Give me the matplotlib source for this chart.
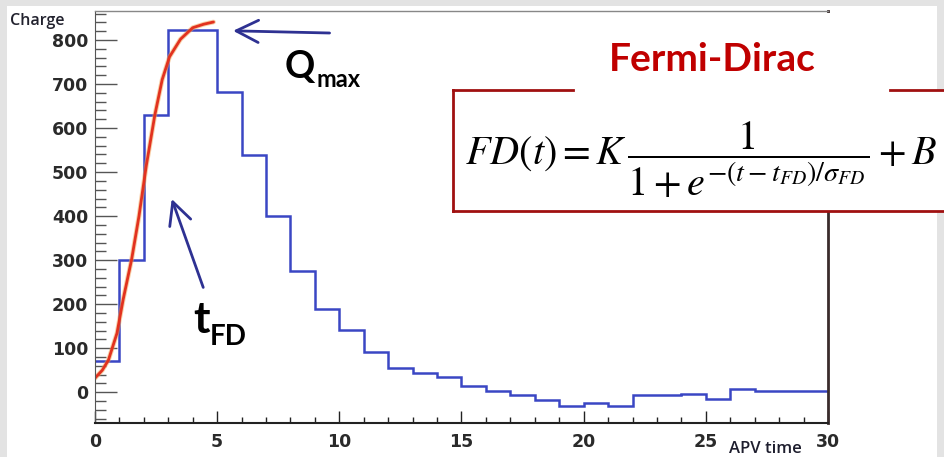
import numpy as np
import matplotlib.pyplot as plt
from matplotlib.patches import Rectangle
from matplotlib.lines import Line2D
from matplotlib.ticker import MultipleLocator

plt.rcParams['mathtext.fontset'] = 'stix'

# APV samples (one bin per time sample)
apv_edges = list(range(31))
charge = [70, 300, 630, 823, 823, 681, 538, 400, 275, 190,
          142, 91, 54, 44, 35, 14, 2, -7, -17, -31,
          -24, -31, -7, -7, -3, -15, 8, 2, 2, 2]

# Fermi-Dirac fit
fit_t = [0.0, 0.3, 0.55, 0.9, 1.15, 1.5, 1.8, 2.1, 2.45, 2.75, 3.05, 3.5, 4.0, 4.45, 4.85]
fit_q = [32, 50, 73, 134, 210, 302, 400, 515, 630, 710, 762, 802, 828, 836, 841]

W, H = 945, 457
fig = plt.figure(figsize=(W / 100, H / 100), dpi=100, facecolor='#e3e3e3')


def fx(x):
    return x / W


def fy(y):
    return 1 - y / H


# white slide area
fig.patches.append(Rectangle((fx(7), 0), fx(930), fy(6), transform=fig.transFigure,
                             facecolor='white', edgecolor='none', zorder=-10))

ax = fig.add_axes([fx(95), fy(423), fx(828 - 95), (423 - 11) / H])
ax.set_facecolor('white')

ax.stairs(charge, apv_edges, baseline=None, color='#3a46c4', lw=1.8)
ax.plot(fit_t, fit_q, color='#f2a050', lw=3.4, alpha=0.5, solid_capstyle='round')
ax.plot(fit_t, fit_q, color='#e2321f', lw=2.0, solid_capstyle='round')

ax.set_xlim(0, 30)
ax.set_ylim(-70, 866)
ax.xaxis.set_major_locator(MultipleLocator(5))
ax.xaxis.set_minor_locator(MultipleLocator(1))
ax.yaxis.set_major_locator(MultipleLocator(100))
ax.yaxis.set_minor_locator(MultipleLocator(20))
ax.tick_params(axis='y', which='major', direction='in', length=16, width=1, color='#555555',
               pad=5, labelsize=12.5, labelcolor='#2a2a2a')
ax.tick_params(axis='y', which='minor', direction='in', length=8, width=1, color='#555555')
ax.tick_params(axis='x', which='major', direction='in', length=9, width=1, color='#222222',
               pad=7, labelsize=12.5, labelcolor='#2a2a2a')
ax.tick_params(axis='x', which='minor', direction='in', length=4, width=1, color='#222222')
for lab in ax.get_xticklabels() + ax.get_yticklabels():
    lab.set_fontweight('bold')
ax.spines['left'].set_color('#555555')
ax.spines['top'].set_color('#888888')
ax.spines['top'].set_linewidth(1)
ax.spines['bottom'].set_color('#222222')
ax.spines['bottom'].set_linewidth(1.5)
ax.spines['right'].set_color('#3a2c2c')
ax.spines['right'].set_linewidth(2)

fig.text(fx(10), fy(25), 'Charge', family='Open Sans', weight='semibold', fontsize=11.5,
         color='#22222e', va='baseline')
fig.text(fx(765), fy(453), 'APV time', family='Open Sans', weight='semibold', fontsize=12,
         color='#1e1e2e', va='baseline', ha='center')

# arrows
arrow_kw = dict(arrowstyle='->,head_length=0.8,head_width=0.4', lw=2, color='#2e3192',
                mutation_scale=20, shrinkA=0, shrinkB=0)
ax.annotate('', xy=(5.65, 821), xytext=(9.6, 816), arrowprops=arrow_kw, annotation_clip=False)
ax.annotate('', xy=(3.14, 439), xytext=(4.43, 238), arrowprops=arrow_kw, annotation_clip=False)

fig.text(fx(285), fy(78), 'Q', family='Lato', weight='bold', fontsize=27, va='baseline')
fig.text(fx(317), fy(87), 'max', family='Lato', weight='bold', fontsize=17, va='baseline')
fig.text(fx(193), fy(333), 't', family='Lato', weight='bold', fontsize=32, va='baseline')
fig.text(fx(210), fy(345), 'FD', family='Lato', weight='bold', fontsize=20, va='baseline')

# title + formula box
box_red = '#a01010'
fig.patches.append(Rectangle((fx(575), fy(90)), fx(890 - 575), (90 - 13) / H,
                             transform=fig.transFigure, facecolor='white', edgecolor='none', zorder=2))
fig.patches.append(Rectangle((fx(453), fy(211)), fx(945 - 453), (211 - 90) / H,
                             transform=fig.transFigure, facecolor='white', edgecolor='none', zorder=2))
for xs, ys in [([453, 453], [90, 211]), ([453, 945], [211, 211]),
               ([453, 573], [90, 90]), ([890, 945], [90, 90])]:
    fig.lines.append(Line2D([fx(v) for v in xs], [fy(v) for v in ys], transform=fig.transFigure,
                            color=box_red, lw=2, zorder=3))
fig.text(fx(712), fy(71), 'Fermi-Dirac', family='Lato', weight='bold', fontsize=28,
         color='#c00000', ha='center', va='baseline', zorder=4)
fig.text(fx(701), fy(160), r'$FD(t) = K\,\dfrac{1}{1+e^{-(t-t_{FD})/\sigma_{FD}}} + B$',
         fontsize=29, ha='center', va='center', zorder=4)

fig.savefig('out.png', dpi=100, facecolor=fig.get_facecolor())
